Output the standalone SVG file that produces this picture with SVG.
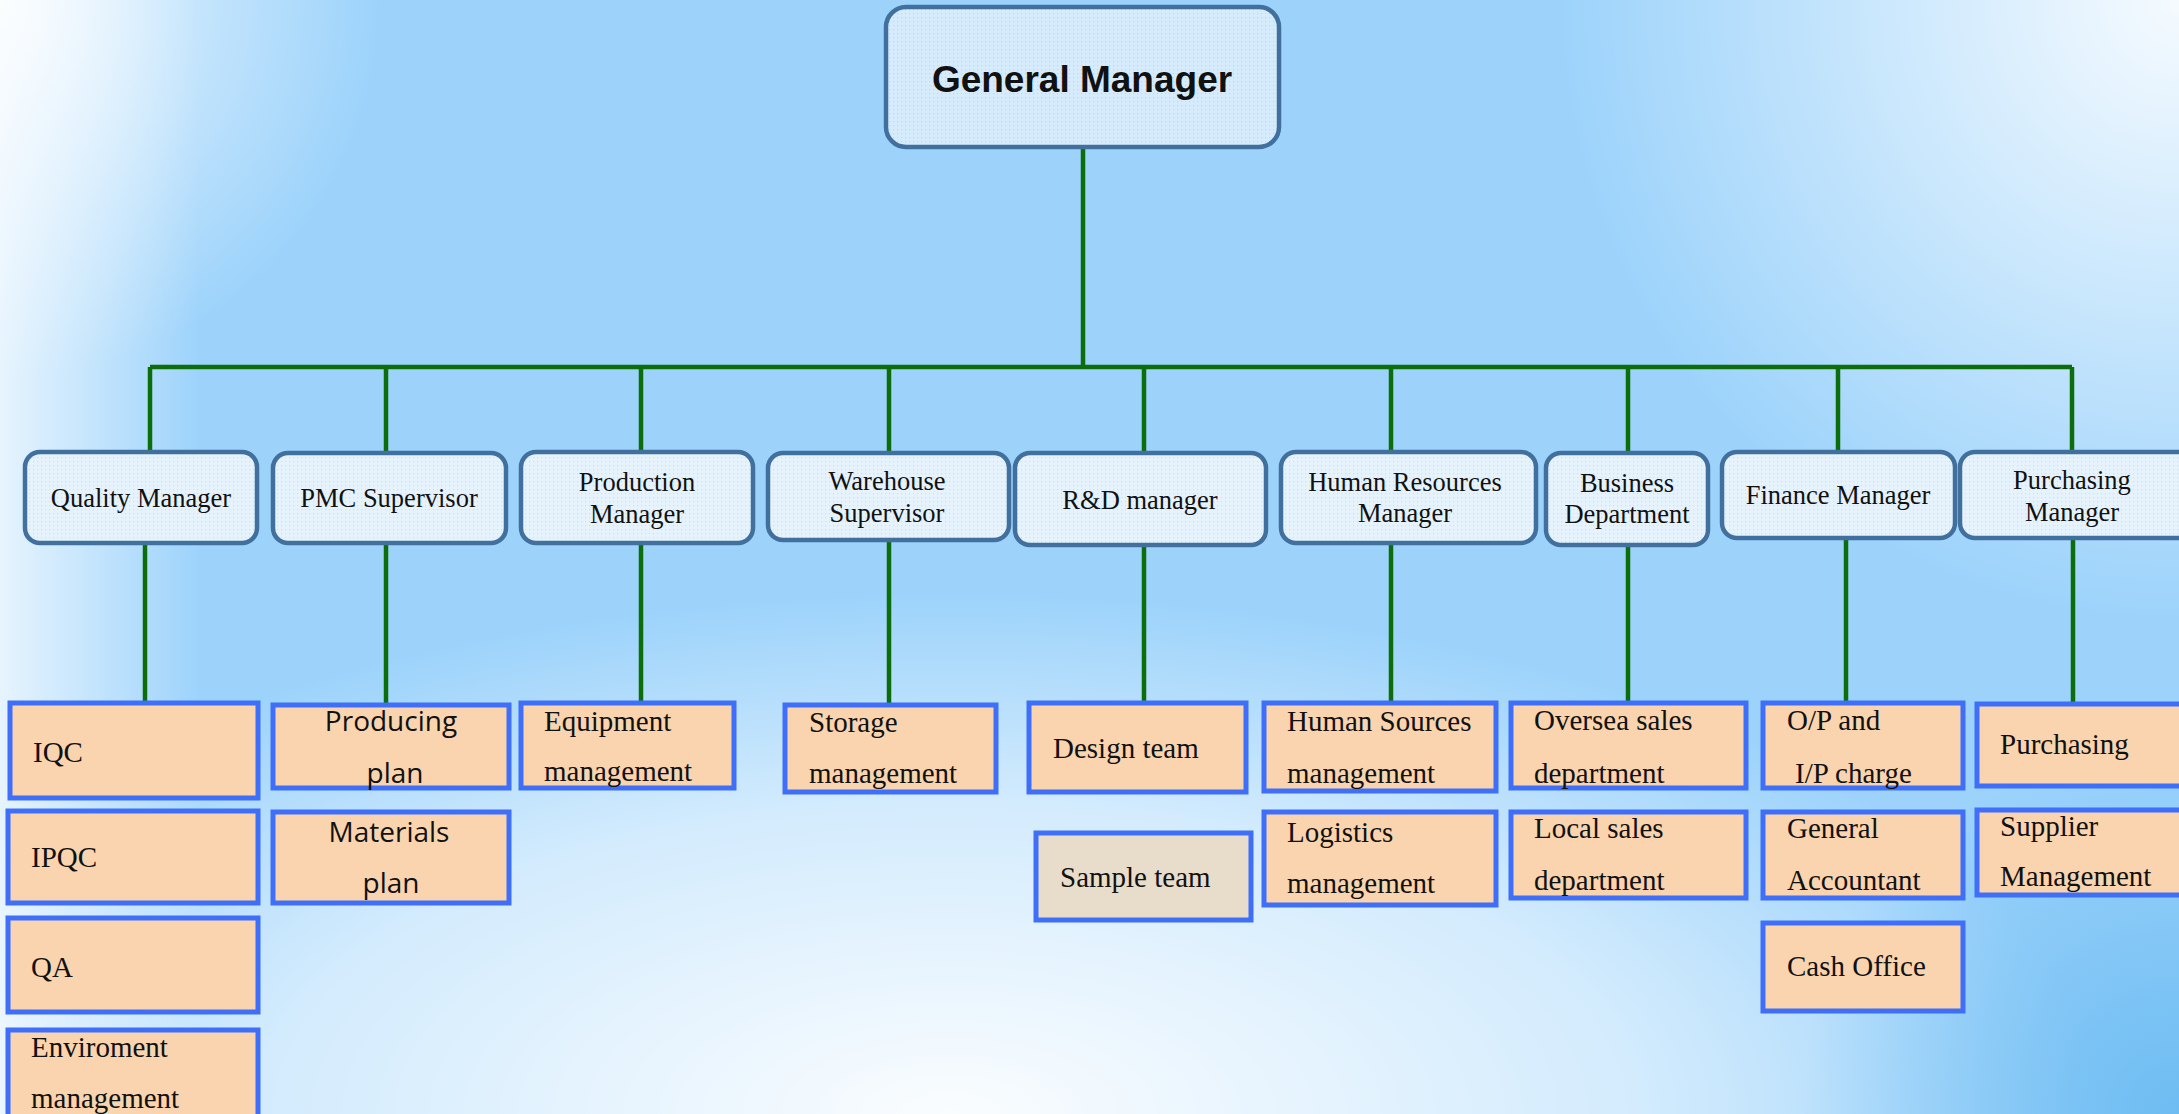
<svg xmlns="http://www.w3.org/2000/svg" width="2179" height="1114" viewBox="0 0 2179 1114">
<defs>
<radialGradient id="gTL" cx="0" cy="0" r="380" gradientUnits="userSpaceOnUse"><stop offset="0" stop-color="#ffffff" stop-opacity="0.85"/><stop offset="1" stop-color="#ffffff" stop-opacity="0"/></radialGradient>
<radialGradient id="gTR" cx="2179" cy="0" r="620" gradientUnits="userSpaceOnUse"><stop offset="0" stop-color="#ffffff" stop-opacity="0.9"/><stop offset="1" stop-color="#ffffff" stop-opacity="0"/></radialGradient>
<linearGradient id="gL" x1="0" y1="0" x2="200" y2="0" gradientUnits="userSpaceOnUse"><stop offset="0" stop-color="#ffffff" stop-opacity="0.75"/><stop offset="1" stop-color="#ffffff" stop-opacity="0"/></linearGradient>
<radialGradient id="gB" cx="950" cy="1114" r="1" gradientTransform="translate(950 1114) scale(1150 520) translate(-950 -1114)" gradientUnits="userSpaceOnUse"><stop offset="0" stop-color="#ffffff" stop-opacity="0.95"/><stop offset="0.6" stop-color="#ffffff" stop-opacity="0.55"/><stop offset="1" stop-color="#ffffff" stop-opacity="0"/></radialGradient>
<radialGradient id="gBR" cx="2179" cy="1114" r="380" gradientUnits="userSpaceOnUse"><stop offset="0" stop-color="#6dbcf2" stop-opacity="1"/><stop offset="1" stop-color="#6dbcf2" stop-opacity="0"/></radialGradient>
<pattern id="dots" width="4" height="4" patternUnits="userSpaceOnUse"><rect width="4" height="4" fill="#e6f3fd"/><rect x="1" y="1" width="1.2" height="1.2" fill="#c8e1f5"/></pattern>
<pattern id="dotsGM" width="4" height="4" patternUnits="userSpaceOnUse"><rect width="4" height="4" fill="#d6ecfd"/><rect x="1" y="1" width="1.2" height="1.2" fill="#b9d9f3"/></pattern>
<style>
.mgr{fill:url(#dots);stroke:#41709f;stroke-width:4.5}
.gm{fill:url(#dotsGM);stroke:#41709f;stroke-width:4.5}
.sub{fill:#f9d4ae;stroke:#3f6ff8;stroke-width:5}
.sub2{fill:#e8dccb;stroke:#3f6ff8;stroke-width:5}
.t2{font-family:"Liberation Serif","Times New Roman",serif;font-size:26.5px;fill:#111;text-anchor:middle}
.t3{font-family:"Liberation Serif","Times New Roman",serif;font-size:29px;fill:#111}
.ts{font-family:"Open Sans","Noto Sans",sans-serif;font-size:28px;fill:#111;text-anchor:middle}
.tgm{font-family:"Liberation Sans",Arial,sans-serif;font-size:37px;font-weight:bold;fill:#111;text-anchor:middle}
.c{stroke:#0b6e0b;stroke-width:4.5;fill:none}
</style>
</defs>
<rect width="2179" height="1114" fill="#9dd3fb"/>
<rect width="2179" height="1114" fill="url(#gB)"/>
<rect width="2179" height="1114" fill="url(#gTL)"/>
<rect width="2179" height="1114" fill="url(#gTR)"/>
<rect width="2179" height="1114" fill="url(#gL)"/>
<rect width="2179" height="1114" fill="url(#gBR)"/>

<g id="connectors">
<path class="c" d="M1083 147V367M150 367H2072"/>
<path class="c" d="M150 367V453M386 367V453M641 367V453M889 367V453M1144 367V453M1391 367V453M1628 367V453M1838 367V453M2072 367V453"/>
<path class="c" d="M145 543V703M386 543V705M641 543V703M889 540V705M1144 545V703M1391 543V703M1628 545V703M1846 538V703M2073 538V704"/>
</g>

<g id="general-manager"><rect class="gm" x="886" y="7" width="393" height="140" rx="20"/><text class="tgm" x="1082" y="92">General Manager</text></g>

<g id="quality-manager"><rect class="mgr" x="25" y="452" width="232" height="91" rx="15"/><text class="t2" x="141" y="507">Quality Manager</text></g>
<g id="pmc-supervisor"><rect class="mgr" x="273" y="453" width="233" height="90" rx="15"/><text class="t2" x="389" y="507">PMC Supervisor</text></g>
<g id="production-manager"><rect class="mgr" x="521" y="452" width="232" height="91" rx="15"/><text class="t2" x="637" y="491">Production</text><text class="t2" x="637" y="523">Manager</text></g>
<g id="warehouse-supervisor"><rect class="mgr" x="768" y="453" width="241" height="87" rx="15"/><text class="t2" x="887" y="490">Warehouse</text><text class="t2" x="887" y="522">Supervisor</text></g>
<g id="rd-manager"><rect class="mgr" x="1015" y="453" width="251" height="92" rx="15"/><text class="t2" x="1140" y="509">R&amp;D manager</text></g>
<g id="hr-manager"><rect class="mgr" x="1281" y="452" width="255" height="91" rx="15"/><text class="t2" x="1405" y="491">Human Resources</text><text class="t2" x="1405" y="522">Manager</text></g>
<g id="business-department"><rect class="mgr" x="1546" y="453" width="162" height="92" rx="15"/><text class="t2" x="1627" y="492">Business</text><text class="t2" x="1627" y="523">Department</text></g>
<g id="finance-manager"><rect class="mgr" x="1722" y="452" width="233" height="86" rx="15"/><text class="t2" x="1838" y="504">Finance Manager</text></g>
<g id="purchasing-manager"><rect class="mgr" x="1960" y="452" width="240" height="86" rx="15"/><text class="t2" x="2072" y="489">Purchasing</text><text class="t2" x="2072" y="521">Manager</text></g>

<g id="iqc"><rect class="sub" x="10" y="703" width="248" height="95"/><text class="t3" x="33" y="762">IQC</text></g>
<g id="ipqc"><rect class="sub" x="8" y="811" width="250" height="92"/><text class="t3" x="31" y="867">IPQC</text></g>
<g id="qa"><rect class="sub" x="8" y="918" width="250" height="94"/><text class="t3" x="31" y="977">QA</text></g>
<g id="enviroment-management"><rect class="sub" x="8" y="1030" width="250" height="100"/><text class="t3" x="31" y="1057">Enviroment</text><text class="t3" x="31" y="1108">management</text></g>

<g id="producing-plan"><rect class="sub" x="273" y="705" width="236" height="83"/><text class="ts" x="391" y="731">Producing</text><text class="ts" x="395" y="783">plan</text></g>
<g id="materials-plan"><rect class="sub" x="273" y="812" width="236" height="91"/><text class="ts" x="389" y="842">Materials</text><text class="ts" x="391" y="893">plan</text></g>

<g id="equipment-management"><rect class="sub" x="521" y="703" width="213" height="85"/><text class="t3" x="544" y="731">Equipment</text><text class="t3" x="544" y="781">management</text></g>

<g id="storage-management"><rect class="sub" x="785" y="705" width="211" height="87"/><text class="t3" x="809" y="732">Storage</text><text class="t3" x="809" y="783">management</text></g>

<g id="design-team"><rect class="sub" x="1029" y="703" width="217" height="89"/><text class="t3" x="1053" y="758">Design team</text></g>
<g id="sample-team"><rect class="sub2" x="1036" y="833" width="215" height="87"/><text class="t3" x="1060" y="887">Sample team</text></g>

<g id="human-sources-management"><rect class="sub" x="1264" y="703" width="232" height="88"/><text class="t3" x="1287" y="731">Human Sources</text><text class="t3" x="1287" y="783">management</text></g>
<g id="logistics-management"><rect class="sub" x="1264" y="812" width="232" height="93"/><text class="t3" x="1287" y="842">Logistics</text><text class="t3" x="1287" y="893">management</text></g>

<g id="oversea-sales-department"><rect class="sub" x="1511" y="703" width="235" height="85"/><text class="t3" x="1534" y="730">Oversea sales</text><text class="t3" x="1534" y="783">department</text></g>
<g id="local-sales-department"><rect class="sub" x="1511" y="812" width="235" height="86"/><text class="t3" x="1534" y="838">Local sales</text><text class="t3" x="1534" y="890">department</text></g>

<g id="op-ip-charge"><rect class="sub" x="1763" y="703" width="200" height="85"/><text class="t3" x="1787" y="730">O/P and</text><text class="t3" x="1795" y="783">I/P charge</text></g>
<g id="general-accountant"><rect class="sub" x="1763" y="812" width="200" height="86"/><text class="t3" x="1787" y="838">General</text><text class="t3" x="1787" y="890">Accountant</text></g>
<g id="cash-office"><rect class="sub" x="1763" y="923" width="200" height="88"/><text class="t3" x="1787" y="976">Cash Office</text></g>

<g id="purchasing"><rect class="sub" x="1977" y="704" width="230" height="82"/><text class="t3" x="2000" y="754">Purchasing</text></g>
<g id="supplier-management"><rect class="sub" x="1977" y="810" width="230" height="85"/><text class="t3" x="2000" y="836">Supplier</text><text class="t3" x="2000" y="886">Management</text></g>
</svg>
